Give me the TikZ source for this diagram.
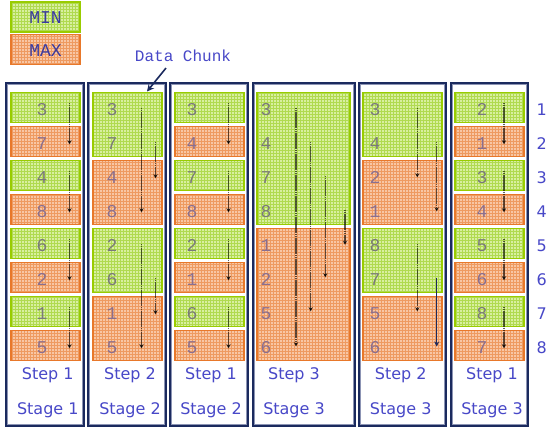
\documentclass[tikz,border=0pt]{standalone}
\usepackage{fontspec}
\setmainfont{DejaVu Sans}
\newfontfamily\monof{Liberation Mono}
\usetikzlibrary{patterns,arrows.meta}
\definecolor{gborder}{HTML}{99CC00}
\definecolor{gfill}{HTML}{D8EFA0}
\definecolor{ggrid}{HTML}{B0DA50}
\definecolor{oborder}{HTML}{E8782A}
\definecolor{ofill}{HTML}{F8C6A4}
\definecolor{ogrid}{HTML}{EE9A60}
\definecolor{navyc}{HTML}{1B2A5E}
\definecolor{navyin}{HTML}{8C94B4}
\definecolor{lblue}{HTML}{4848C8}
\definecolor{gdigit}{HTML}{7A7A7A}
\definecolor{odigit}{HTML}{8A6F8F}
\tikzset{
  gbox/.style={draw=gborder, line width=1.6pt, preaction={fill=gfill}, pattern=grid, pattern color=ggrid, inner sep=0pt, outer sep=0pt},
  obox/.style={draw=oborder, line width=1.6pt, preaction={fill=ofill}, pattern=grid, pattern color=ogrid, inner sep=0pt, outer sep=0pt},
  frame/.style={draw=navyc, line width=1.8pt, fill=white, inner sep=0pt, outer sep=0pt, minimum height=343pt},
  frameinner/.style={draw=navyin, line width=0.6pt},
  digit/.style={font=\monof\fontsize{18}{20}\selectfont, anchor=base, inner sep=0pt},
  legtext/.style={font=\monof\fontsize{18}{20}\selectfont, text=lblue!80!black, anchor=base, inner sep=0pt},
  lbl/.style={font=\fontsize{16}{18}\selectfont, text=lblue, anchor=base, inner sep=0pt},
  arr/.style={draw=black, draw opacity=0.62, line width=1.1pt, dash pattern=on 1.8pt off 0.3pt, -{Stealth[length=4.5pt,width=4.5pt]}},
  navyarr/.style={draw=navyc, line width=1.4pt, -{Stealth[length=5pt,width=5pt]}},
}
\newcommand\singleframe[5]{%
  \foreach \i/\d in {#5} {%
    \pgfmathsetmacro\yc{107.5+34*(\i-1)}
    \ifodd\i
      \node[gbox, minimum width=69pt, minimum height=30pt] (#1b\i) at (#2,\yc) {};
      \node[digit, text=gdigit] (#1d\i) at (#3,\yc+7.5) {\d};
    \else
      \node[obox, minimum width=69pt, minimum height=30pt] (#1b\i) at (#2,\yc) {};
      \node[digit, text=odigit] (#1d\i) at (#3,\yc+7.5) {\d};
    \fi
  }
  \foreach \a/\b in {1/2,3/4,5/6,7/8} {%
    \pgfmathsetmacro\ya{107.5+34*(\a-1)-5}
    \pgfmathsetmacro\yb{107.5+34*(\b-1)+3}
    \coordinate (#1s\a) at (#4,\ya);
    \coordinate (#1e\a) at (#4,\yb);
    \draw[arr] (#1s\a) -- (#1e\a);
  }
}
\newcommand\digitcol[3]{%
  \foreach \i/\d/\c in {#3} {%
    \pgfmathsetmacro\yc{107.5+34*(\i-1)}
    \node[digit, text=\c] (#1d\i) at (#2,\yc+7.5) {\d};
  }
}
\newcommand\varrow[5]{%
  \coordinate (#1s) at (#2,#3);
  \coordinate (#1e) at (#2,#4);
  \draw[#5] (#1s) -- (#1e);
}
\newcommand\innerframe[1]{%
  \draw[frameinner] ([shift={(1.6,1.6)}]#1.north west) rectangle ([shift={(-1.6,-1.6)}]#1.south east);
}
\begin{document}
\begin{tikzpicture}[x=1pt,y=-1pt]
\useasboundingbox (0,0) rectangle (548,432);
\fill[white] (0,0) rectangle (548,432);

% legend
\node[gbox, minimum width=69pt, minimum height=30pt] (minbox) at (45.5,17) {};
\node[legtext] (mintext) at (45.5,23.3) {MIN};
\node[obox, minimum width=69pt, minimum height=30pt] (maxbox) at (45.5,49.5) {};
\node[legtext] (maxtext) at (45.5,56.7) {MAX};

% frames
\node[frame, minimum width=78pt] (fr1) at (45,254.5) {};
\node[frame, minimum width=78pt] (fr2) at (127,254.5) {};
\node[frame, minimum width=78pt] (fr3) at (209,254.5) {};
\node[frame, minimum width=102pt] (fr4) at (304,254.5) {};
\node[frame, minimum width=87pt] (fr5) at (402.5,254.5) {};
\node[frame, minimum width=77pt] (fr6) at (489.5,254.5) {};
\innerframe{fr1}\innerframe{fr2}\innerframe{fr3}
\innerframe{fr4}\innerframe{fr5}\innerframe{fr6}

% frame 1, 3, 6 (pairs of single rows)
\singleframe{fa}{45.5}{42}{69.5}{1/3,2/7,3/4,4/8,5/6,6/2,7/1,8/5}
\singleframe{fc}{209.5}{192}{228.5}{1/3,2/4,3/7,4/8,5/2,6/1,7/6,8/5}
\singleframe{ff}{489.5}{482}{504}{1/2,2/1,3/3,4/4,5/5,6/6,7/8,8/7}

% frame 2
\node[gbox, minimum width=69pt, minimum height=64pt] (fbb1) at (127.5,124.5) {};
\node[obox, minimum width=69pt, minimum height=64pt] (fbb2) at (127.5,192.5) {};
\node[gbox, minimum width=69pt, minimum height=64pt] (fbb3) at (127.5,260.5) {};
\node[obox, minimum width=69pt, minimum height=64pt] (fbb4) at (127.5,328.5) {};
\digitcol{fb}{112}{1/3/gdigit,2/7/gdigit,3/4/odigit,4/8/odigit,5/2/gdigit,6/6/gdigit,7/1/odigit,8/5/odigit}
\varrow{fbA}{141.5}{107.5}{212.5}{arr}
\varrow{fbB}{155.5}{141.5}{178.5}{arr}
\varrow{fbC}{141.5}{243.5}{348.5}{arr}
\varrow{fbD}{155.5}{277.5}{314.5}{arr}

% frame 4
\node[gbox, minimum width=93pt, minimum height=132pt] (fdb1) at (303.5,158.5) {};
\node[obox, minimum width=93pt, minimum height=132pt] (fdb2) at (303.5,294.5) {};
\digitcol{fd}{266}{1/3/gdigit,2/4/gdigit,3/7/gdigit,4/8/gdigit,5/1/odigit,6/2/odigit,7/5/odigit,8/6/odigit}
\varrow{fdA}{296}{107.5}{346.5}{arr}
\varrow{fdB}{310.7}{141.5}{311.5}{arr}
\varrow{fdC}{325.3}{175.5}{277.5}{arr}
\varrow{fdD}{345}{209.5}{245}{arr}

% frame 5
\node[gbox, minimum width=79pt, minimum height=64pt] (feb1) at (402.5,124.5) {};
\node[obox, minimum width=79pt, minimum height=64pt] (feb2) at (402.5,192.5) {};
\node[gbox, minimum width=79pt, minimum height=64pt] (feb3) at (402.5,260.5) {};
\node[obox, minimum width=79pt, minimum height=64pt] (feb4) at (402.5,328.5) {};
\digitcol{fe}{375}{1/3/gdigit,2/4/gdigit,3/2/odigit,4/1/odigit,5/8/gdigit,6/7/gdigit,7/5/odigit,8/6/odigit}
\varrow{feA}{417.3}{107.5}{177.5}{arr}
\varrow{feB}{436.7}{141.5}{211.5}{arr}
\varrow{feC}{417.3}{243.5}{311.5}{arr}
\varrow{feD}{436.7}{277.5}{346.5}{navyarr}

% step / stage labels
\node[lbl] (step1) at (47.8,379) {Step 1};
\node[lbl] (step2) at (130,379) {Step 2};
\node[lbl] (step3) at (211,379) {Step 1};
\node[lbl] (step4) at (294,379) {Step 3};
\node[lbl] (step5) at (400.7,379) {Step 2};
\node[lbl] (step6) at (492,379) {Step 1};
\node[lbl] (stage1) at (47.8,414) {Stage 1};
\node[lbl] (stage2) at (130,414) {Stage 2};
\node[lbl] (stage3) at (211,414) {Stage 2};
\node[lbl] (stage4) at (294,414) {Stage 3};
\node[lbl] (stage5) at (400.7,414) {Stage 3};
\node[lbl] (stage6) at (492,414) {Stage 3};

% row numbers
\foreach \i in {1,...,8} {
  \pgfmathsetmacro\yc{107.5+34*(\i-1)}
  \node[lbl] (row\i) at (541.7,\yc+8) {\i};
}

% data chunk annotation
\node[font=\monof\fontsize{16}{18}\selectfont, text=lblue, anchor=base, inner sep=0pt] (dc) at (183,61) {Data Chunk};
\coordinate (dcs) at (166,68);
\coordinate (dce) at (147,91.5);
\draw[draw=navyc, line width=1.6pt, -{Stealth[length=7pt,width=7pt]}] (dcs) -- (dce);
\end{tikzpicture}
\end{document}
